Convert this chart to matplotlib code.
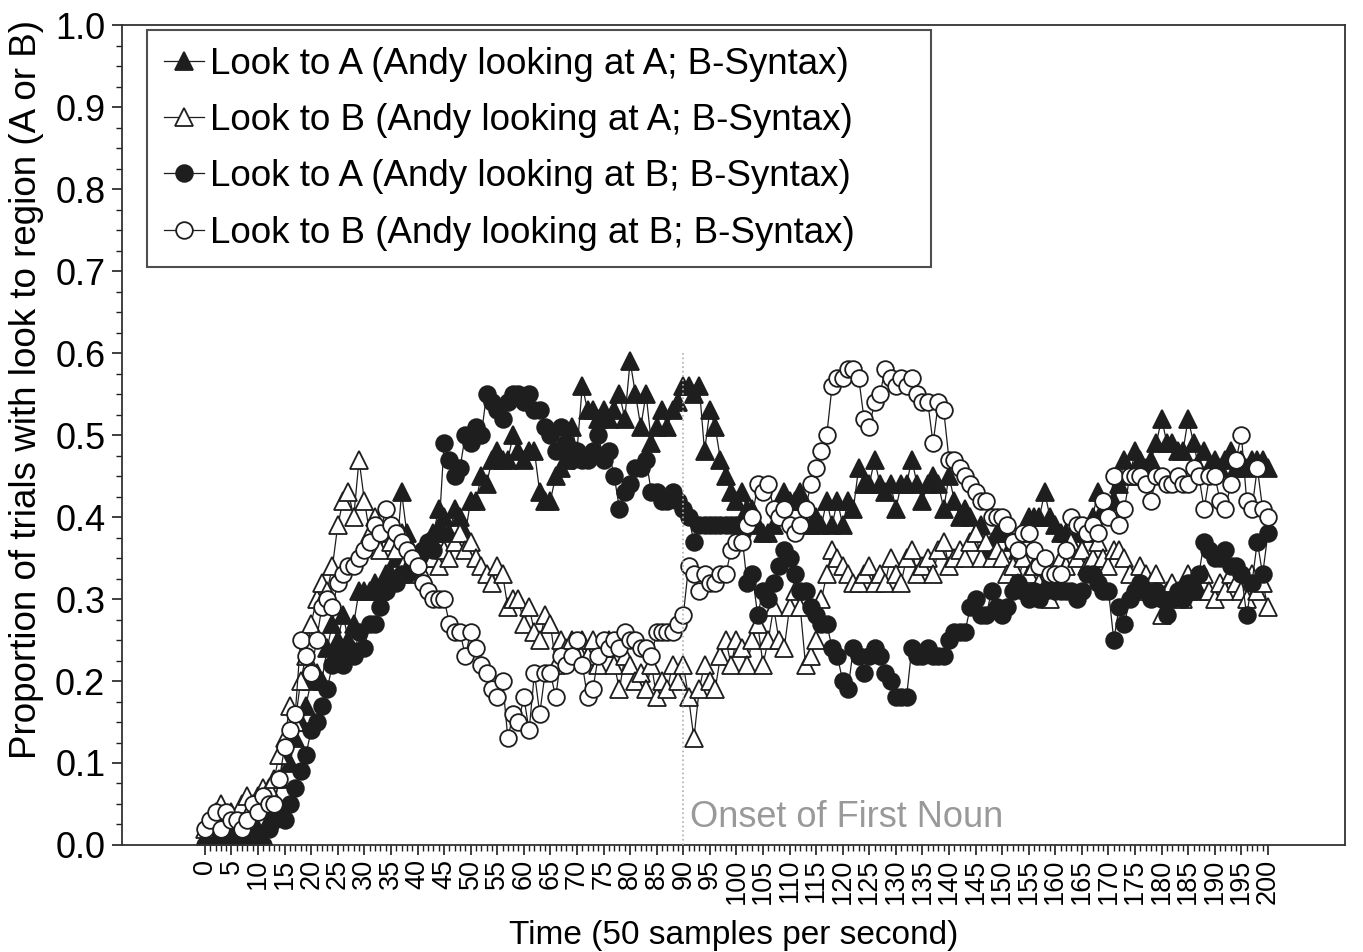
import matplotlib
matplotlib.use("Agg")
import matplotlib.pyplot as plt
from matplotlib.ticker import MultipleLocator, FixedLocator
import numpy as np

plt.rcParams['font.family'] = ['Liberation Sans', 'DejaVu Sans']

# time samples 0..200
time = list(range(201))

# Look to A (Andy looking at A; B-Syntax) - filled triangles
look_a_andy_a = [
    0.00, 0.00, 0.01, 0.00, 0.01, 0.00, 0.01, 0.01, 0.00, 0.01,
    0.02, 0.01, 0.03, 0.05, 0.08, 0.11, 0.10, 0.13, 0.15, 0.17,
    0.20, 0.21, 0.20, 0.24, 0.27, 0.25, 0.28, 0.25, 0.27, 0.31,
    0.31, 0.31, 0.32, 0.31, 0.33, 0.33, 0.35, 0.43, 0.38, 0.36,
    0.34, 0.36, 0.35, 0.38, 0.41, 0.40, 0.38, 0.41, 0.40, 0.38,
    0.42, 0.42, 0.45, 0.44, 0.47, 0.48, 0.47, 0.47, 0.50, 0.48,
    0.47, 0.48, 0.48, 0.43, 0.42, 0.42, 0.45, 0.46, 0.47, 0.51,
    0.48, 0.56, 0.53, 0.53, 0.52, 0.53, 0.52, 0.53, 0.55, 0.52,
    0.59, 0.55, 0.51, 0.55, 0.49, 0.51, 0.53, 0.51, 0.53, 0.54,
    0.56, 0.56, 0.55, 0.56, 0.48, 0.53, 0.51, 0.47, 0.45, 0.43,
    0.42, 0.43, 0.41, 0.41, 0.39, 0.38, 0.38, 0.39, 0.41, 0.43,
    0.42, 0.42, 0.43, 0.39, 0.39, 0.40, 0.39, 0.42, 0.39, 0.42,
    0.39, 0.42, 0.41, 0.46, 0.44, 0.44, 0.47, 0.44, 0.43, 0.44,
    0.41, 0.44, 0.44, 0.47, 0.44, 0.42, 0.44, 0.45, 0.44, 0.41,
    0.45, 0.42, 0.40, 0.41, 0.40, 0.38, 0.39, 0.36, 0.37, 0.38,
    0.39, 0.38, 0.37, 0.36, 0.38, 0.40, 0.40, 0.40, 0.43, 0.40,
    0.39, 0.38, 0.38, 0.37, 0.38, 0.36, 0.38, 0.40, 0.43, 0.41,
    0.41, 0.42, 0.44, 0.47, 0.45, 0.48, 0.47, 0.46, 0.47, 0.49,
    0.52, 0.49, 0.49, 0.48, 0.48, 0.52, 0.49, 0.46, 0.48, 0.46,
    0.47, 0.46, 0.47, 0.48, 0.46, 0.47, 0.46, 0.47, 0.47, 0.47,
    0.46,
]

# Look to B (Andy looking at A; B-Syntax) - open triangles
look_b_andy_a = [
    0.02, 0.03, 0.04, 0.05, 0.03, 0.04, 0.03, 0.05, 0.06, 0.05,
    0.06, 0.07, 0.07, 0.08, 0.11, 0.13, 0.17, 0.15, 0.20, 0.23,
    0.27, 0.30, 0.32, 0.31, 0.34, 0.39, 0.42, 0.43, 0.40, 0.47,
    0.42, 0.38, 0.40, 0.36, 0.38, 0.37, 0.36, 0.38, 0.35, 0.33,
    0.34, 0.33, 0.37, 0.35, 0.34, 0.36, 0.35, 0.37, 0.38, 0.36,
    0.37, 0.35, 0.34, 0.33, 0.32, 0.34, 0.33, 0.29, 0.30, 0.30,
    0.27, 0.29, 0.26, 0.25, 0.28, 0.27, 0.22, 0.25, 0.24, 0.25,
    0.24, 0.25, 0.23, 0.25, 0.22, 0.24, 0.25, 0.22, 0.19, 0.23,
    0.22, 0.20, 0.21, 0.19, 0.22, 0.18, 0.20, 0.19, 0.22, 0.20,
    0.22, 0.18, 0.13, 0.19, 0.22, 0.20, 0.19, 0.23, 0.25, 0.22,
    0.25, 0.24, 0.22, 0.25, 0.27, 0.22, 0.25, 0.29, 0.25, 0.24,
    0.29, 0.31, 0.29, 0.22, 0.23, 0.25, 0.30, 0.33, 0.36, 0.35,
    0.34, 0.33, 0.32, 0.32, 0.33, 0.34, 0.32, 0.33, 0.32, 0.35,
    0.33, 0.32, 0.35, 0.36, 0.33, 0.34, 0.35, 0.33, 0.36, 0.37,
    0.34, 0.35, 0.36, 0.35, 0.37, 0.38, 0.35, 0.37, 0.35, 0.36,
    0.35, 0.33, 0.34, 0.32, 0.35, 0.33, 0.34, 0.32, 0.34, 0.30,
    0.33, 0.35, 0.34, 0.37, 0.35, 0.36, 0.34, 0.35, 0.37, 0.35,
    0.34, 0.36, 0.36, 0.35, 0.33, 0.31, 0.34, 0.33, 0.32, 0.33,
    0.28, 0.31, 0.32, 0.31, 0.30, 0.33, 0.32, 0.31, 0.33, 0.31,
    0.30, 0.32, 0.31, 0.33, 0.32, 0.31, 0.30, 0.33, 0.31, 0.32,
    0.29,
]

# Look to A (Andy looking at B; B-Syntax) - filled circles
look_a_andy_b = [
    0.00, 0.00, 0.00, 0.01, 0.00, 0.01, 0.00, 0.00, 0.01, 0.00,
    0.01, 0.00, 0.02, 0.03, 0.04, 0.03, 0.05, 0.07, 0.09, 0.11,
    0.14, 0.15, 0.17, 0.19, 0.22, 0.23, 0.22, 0.24, 0.23, 0.26,
    0.24, 0.27, 0.27, 0.29, 0.31, 0.32, 0.32, 0.33, 0.33, 0.34,
    0.35, 0.36, 0.37, 0.36, 0.38, 0.49, 0.47, 0.45, 0.46, 0.50,
    0.49, 0.51, 0.50, 0.55, 0.54, 0.53, 0.52, 0.54, 0.55, 0.55,
    0.54, 0.55, 0.53, 0.53, 0.51, 0.50, 0.48, 0.51, 0.49, 0.47,
    0.48, 0.47, 0.47, 0.48, 0.50, 0.47, 0.48, 0.45, 0.41, 0.43,
    0.44, 0.46, 0.46, 0.47, 0.43, 0.43, 0.42, 0.42, 0.43, 0.42,
    0.41, 0.40, 0.37, 0.39, 0.39, 0.39, 0.39, 0.39, 0.39, 0.39,
    0.39, 0.38, 0.32, 0.33, 0.28, 0.31, 0.30, 0.32, 0.34, 0.36,
    0.35, 0.33, 0.31, 0.31, 0.29, 0.28, 0.27, 0.27, 0.24, 0.23,
    0.20, 0.19, 0.24, 0.23, 0.21, 0.23, 0.24, 0.23, 0.21, 0.20,
    0.18, 0.18, 0.18, 0.24, 0.23, 0.23, 0.24, 0.23, 0.23, 0.23,
    0.25, 0.26, 0.26, 0.26, 0.29, 0.30, 0.28, 0.28, 0.31, 0.29,
    0.28, 0.29, 0.31, 0.32, 0.31, 0.30, 0.31, 0.30, 0.31, 0.32,
    0.31, 0.31, 0.31, 0.31, 0.30, 0.31, 0.33, 0.33, 0.32, 0.31,
    0.31, 0.25, 0.29, 0.27, 0.30, 0.31, 0.32, 0.31, 0.30, 0.31,
    0.30, 0.28, 0.30, 0.31, 0.30, 0.32, 0.31, 0.33, 0.37, 0.36,
    0.35, 0.35, 0.36, 0.34, 0.34, 0.33, 0.28, 0.32, 0.37, 0.33,
    0.38,
]

# Look to B (Andy looking at B; B-Syntax) - open circles
look_b_andy_b = [
    0.02, 0.03, 0.04, 0.02, 0.04, 0.03, 0.03, 0.02, 0.03, 0.05,
    0.04, 0.06, 0.05, 0.05, 0.08, 0.12, 0.14, 0.16, 0.25, 0.23,
    0.21, 0.25, 0.29, 0.30, 0.29, 0.32, 0.33, 0.34, 0.34, 0.35,
    0.36, 0.37, 0.39, 0.38, 0.41, 0.39, 0.38, 0.37, 0.36, 0.35,
    0.34, 0.32, 0.31, 0.30, 0.30, 0.30, 0.27, 0.26, 0.26, 0.23,
    0.26, 0.24, 0.22, 0.21, 0.19, 0.18, 0.20, 0.13, 0.16, 0.15,
    0.18, 0.14, 0.21, 0.16, 0.21, 0.21, 0.18, 0.23, 0.22, 0.23,
    0.25, 0.22, 0.18, 0.19, 0.23, 0.25, 0.24, 0.25, 0.24, 0.26,
    0.25, 0.25, 0.24, 0.24, 0.23, 0.26, 0.26, 0.26, 0.26, 0.27,
    0.28, 0.34, 0.33, 0.31, 0.33, 0.32, 0.32, 0.33, 0.33, 0.36,
    0.37, 0.37, 0.39, 0.40, 0.44, 0.43, 0.44, 0.41, 0.40, 0.41,
    0.39, 0.38, 0.39, 0.41, 0.44, 0.46, 0.48, 0.50, 0.56, 0.57,
    0.57, 0.58, 0.58, 0.57, 0.52, 0.51, 0.54, 0.55, 0.58, 0.57,
    0.56, 0.57, 0.56, 0.57, 0.55, 0.54, 0.54, 0.49, 0.54, 0.53,
    0.47, 0.47, 0.46, 0.45, 0.44, 0.43, 0.42, 0.42, 0.40, 0.40,
    0.40, 0.39, 0.37, 0.36, 0.38, 0.38, 0.36, 0.34, 0.35, 0.33,
    0.33, 0.33, 0.36, 0.40, 0.39, 0.39, 0.38, 0.39, 0.38, 0.42,
    0.40, 0.45, 0.39, 0.41, 0.45, 0.45, 0.45, 0.44, 0.42, 0.45,
    0.45, 0.44, 0.44, 0.45, 0.44, 0.44, 0.46, 0.45, 0.41, 0.45,
    0.45, 0.42, 0.41, 0.44, 0.47, 0.50, 0.42, 0.41, 0.46, 0.41,
    0.40,
]

labels = [
    "Look to A (Andy looking at A; B-Syntax)",
    "Look to B (Andy looking at A; B-Syntax)",
    "Look to A (Andy looking at B; B-Syntax)",
    "Look to B (Andy looking at B; B-Syntax)",
]

onset_time = 90
dark = '#1e1e1e'

fig = plt.figure(figsize=(13.63, 9.52), dpi=100)
ax = fig.add_axes([0.0895, 0.1124, 0.8973, 0.8613])

styles = [
    dict(marker='^', mfc=dark, mec=dark, ms=13),
    dict(marker='^', mfc='white', mec=dark, ms=13),
    dict(marker='o', mfc=dark, mec=dark, ms=12),
    dict(marker='o', mfc='white', mec=dark, ms=12),
]
series = [look_a_andy_a, look_b_andy_a, look_a_andy_b, look_b_andy_b]

for vals, lab, st in zip(series, labels, styles):
    ax.plot(time, vals, color=dark, lw=0.9, mew=1.3, label=lab, **st)

# onset marker
ax.plot([onset_time, onset_time], [0, 0.6], color='#b0b0b0', ls=':', lw=1.2, zorder=5)
ax.text(onset_time + 1.2, 0.022, "Onset of First Noun", color='#999999', fontsize=26)

ax.set_xlim(-15.6, 214.5)
ax.set_ylim(0, 1.0)
ax.set_xticks(range(0, 201, 5))
ax.set_xticklabels([str(v) for v in range(0, 201, 5)], rotation=90, fontsize=19.5)
ax.xaxis.set_minor_locator(FixedLocator(range(0, 201)))
ax.set_yticks(np.arange(0, 1.01, 0.1))
ax.set_yticklabels([f"{v:.1f}" for v in np.arange(0, 1.01, 0.1)], fontsize=26)
ax.yaxis.set_minor_locator(MultipleLocator(0.025))
ax.tick_params(axis='both', which='major', direction='out', length=7, width=1.2, color=dark)
ax.tick_params(axis='both', which='minor', direction='out', length=4, width=1.0, color=dark)
ax.tick_params(axis='x', which='major', pad=3)
ax.tick_params(axis='y', which='major', pad=5)
for sp in ax.spines.values():
    sp.set_linewidth(1.3)
    sp.set_color('#333333')

ax.set_xlabel("Time (50 samples per second)", fontsize=24, labelpad=11)
ax.set_ylabel("Proportion of trials with look to region (A or B)", fontsize=26.5)
ax.yaxis.set_label_coords(-0.064, 0.555)

leg = ax.legend(loc='upper left', bbox_to_anchor=(0.0204, 0.70, 0.641, 0.294), mode='expand',
                fontsize=26.5, frameon=True, fancybox=False, numpoints=1, borderaxespad=0,
                borderpad=0.45, handlelength=1.1, handletextpad=0.15, labelspacing=0.58)
leg.get_frame().set_edgecolor('#222222')
leg.get_frame().set_linewidth(1.5)

fig.savefig("out.png", dpi=100)
